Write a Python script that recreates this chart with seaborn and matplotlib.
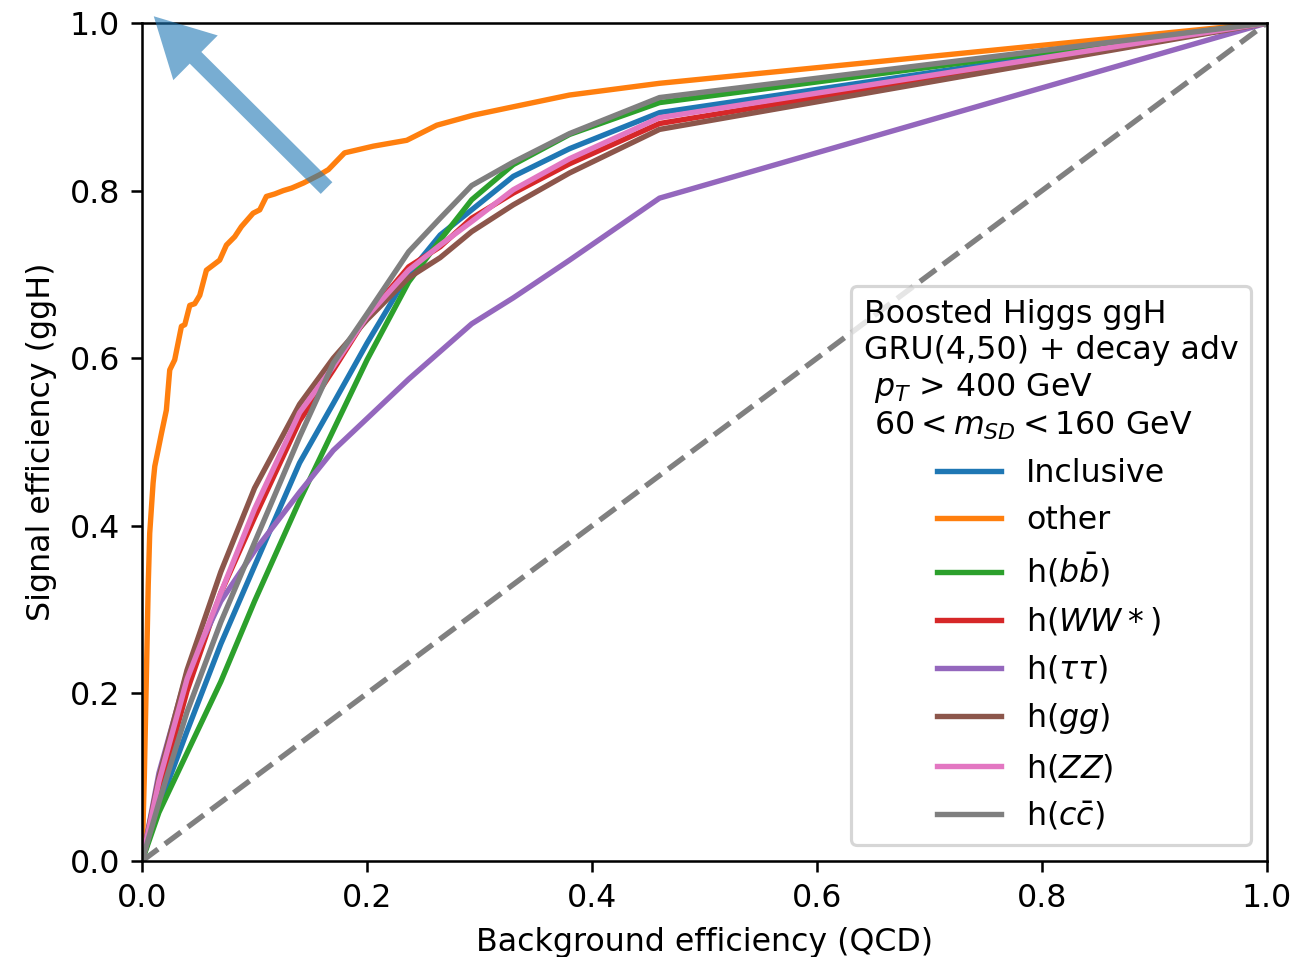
import matplotlib
matplotlib.use("Agg")
import matplotlib.pyplot as plt
import seaborn as sns
import numpy as np
import pandas as pd

# Shared background-efficiency grid for the decay-mode curves
bkg_eff = [0.0, 0.015, 0.04, 0.07, 0.10, 0.14, 0.17, 0.20, 0.237, 0.265, 0.293, 0.33, 0.38, 0.46, 1.0]

sig_inclusive = [0.0, 0.065, 0.155, 0.259, 0.352, 0.475, 0.546, 0.618, 0.701, 0.747, 0.777, 0.817, 0.850, 0.893, 1.0]
sig_bb        = [0.0, 0.058, 0.129, 0.214, 0.310, 0.430, 0.514, 0.598, 0.691, 0.741, 0.789, 0.831, 0.867, 0.905, 1.0]
sig_ww        = [0.0, 0.080, 0.203, 0.320, 0.410, 0.525, 0.586, 0.650, 0.709, 0.733, 0.767, 0.797, 0.832, 0.880, 1.0]
sig_tautau    = [0.0, 0.105, 0.225, 0.310, 0.370, 0.440, 0.490, 0.528, 0.575, 0.608, 0.641, 0.672, 0.717, 0.791, 1.0]
sig_gg        = [0.0, 0.100, 0.228, 0.345, 0.445, 0.545, 0.600, 0.646, 0.696, 0.720, 0.751, 0.783, 0.821, 0.873, 1.0]
sig_zz        = [0.0, 0.095, 0.217, 0.320, 0.420, 0.535, 0.590, 0.650, 0.705, 0.735, 0.763, 0.801, 0.838, 0.887, 1.0]
sig_cc        = [0.0, 0.070, 0.178, 0.285, 0.380, 0.506, 0.594, 0.653, 0.727, 0.767, 0.806, 0.834, 0.868, 0.911, 1.0]

# "other" curve (finer threshold steps)
bkg_eff_other = [0.0, 0.002, 0.004, 0.0055, 0.0068, 0.0098, 0.0113, 0.0142, 0.0172, 0.0216, 0.0246,
                 0.029, 0.032, 0.035, 0.038, 0.0424, 0.0468, 0.0513, 0.0572, 0.0631, 0.069, 0.075,
                 0.0824, 0.0883, 0.0987, 0.1046, 0.1105, 0.118, 0.1256, 0.133, 0.1434, 0.158, 0.1656,
                 0.180, 0.2056, 0.2353, 0.262, 0.2945, 0.33, 0.38, 0.46, 1.0]
sig_other = [0.0, 0.10, 0.232, 0.33, 0.391, 0.451, 0.471, 0.490, 0.510, 0.538, 0.586,
             0.598, 0.618, 0.638, 0.640, 0.663, 0.665, 0.675, 0.705, 0.711, 0.717, 0.735,
             0.745, 0.757, 0.773, 0.777, 0.793, 0.796, 0.800, 0.803, 0.809, 0.819, 0.825,
             0.845, 0.853, 0.860, 0.878, 0.890, 0.900, 0.914, 0.928, 1.0]

labels = ["Inclusive", "other", r"h($b\bar{b}$)", r"h($WW*$)", r"h($\tau\tau$)",
          r"h($gg$)", r"h($ZZ$)", r"h($c\bar{c}$)"]

series = [
    (bkg_eff, sig_inclusive),
    (bkg_eff_other, sig_other),
    (bkg_eff, sig_bb),
    (bkg_eff, sig_ww),
    (bkg_eff, sig_tautau),
    (bkg_eff, sig_gg),
    (bkg_eff, sig_zz),
    (bkg_eff, sig_cc),
]

legend_title = ("Boosted Higgs ggH\nGRU(4,50) + decay adv\n $p_T$ > 400 GeV\n"
                r" $60 < m_{SD} < 160$ GeV")

rows = []
for lab, (xs, ys) in zip(labels, series):
    for xv, yv in zip(xs, ys):
        rows.append({"bkg": xv, "sig": yv, "label": lab})
df = pd.DataFrame(rows)

palette = dict(zip(labels, sns.color_palette("tab10", 8)))

DPI = 228
fig = plt.figure(figsize=(1295 / DPI, 957 / DPI), dpi=DPI)
ax = fig.add_axes([0.1097, 0.1003, 0.9784 - 0.1097, 0.976 - 0.1003])

sns.lineplot(data=df, x="bkg", y="sig", hue="label", hue_order=labels, palette=palette,
             estimator=None, sort=False, lw=1.7, ax=ax)

ax.plot([0, 1], [0, 1], ls="--", color="grey", lw=1.7)

ax.annotate("", xy=(0.0104, 1.008), xytext=(0.164, 0.803),
            arrowprops=dict(facecolor="C0", edgecolor="none", linewidth=0, alpha=0.6,
                            width=5.2, headwidth=19.9, headlength=18.6, shrink=0.0),
            annotation_clip=False)

ax.set_xlim(0, 1)
ax.set_ylim(0, 1)
ax.set_xticks([0.0, 0.2, 0.4, 0.6, 0.8, 1.0])
ax.set_yticks([0.0, 0.2, 0.4, 0.6, 0.8, 1.0])
ax.set_xlabel("Background efficiency (QCD)")
ax.set_ylabel("Signal efficiency (ggH)")

handles, hlabels = ax.get_legend_handles_labels()
leg = ax.legend(handles[:8], hlabels[:8], title=legend_title, loc="lower right")
leg.get_title().set_ha("left")

fig.savefig("out.png", dpi=DPI)
